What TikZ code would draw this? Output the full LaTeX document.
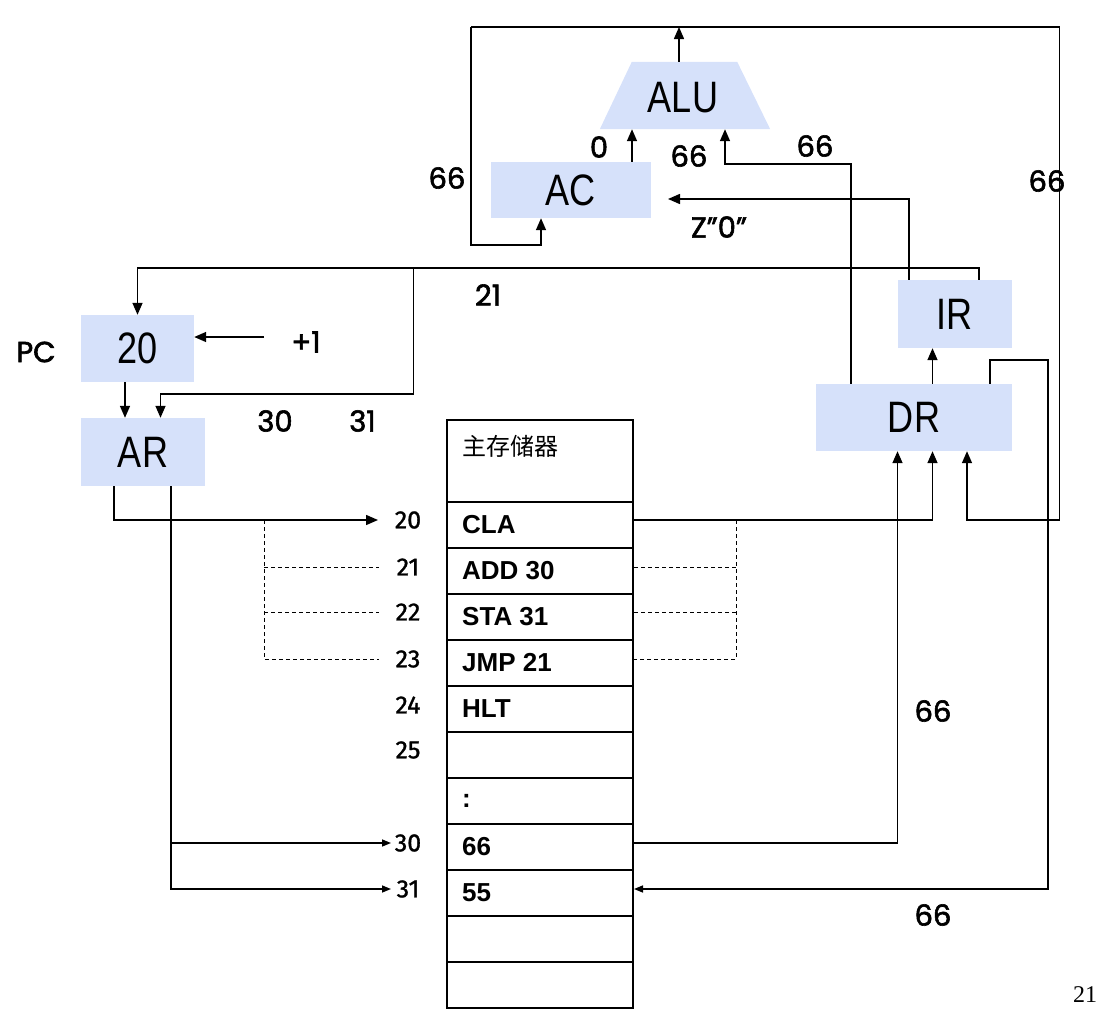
\documentclass[tikz,border=0pt]{standalone}
\usepackage{fontspec}
\setmainfont{Liberation Sans}
\newfontfamily\boxfont[FakeStretch=0.82]{Liberation Sans}
\newfontfamily\labfont[FakeBold=2]{Poppins}
\newfontfamily\addrfont[FakeBold=1.2]{Fira Sans}
\newfontfamily\cjkfont{Noto Sans CJK SC}
\newfontfamily\pagefont{Liberation Serif}
\usetikzlibrary{arrows.meta,calc}
\definecolor{regfill}{RGB}{214,225,250}

\begin{document}
\begin{tikzpicture}[x=1pt,y=-1pt,
  reg/.style={fill=regfill, inner sep=0pt, font=\boxfont\fontsize{44}{44}\selectfont},
  wire/.style={line width=1.5pt},
  arr/.style={wire, -{Triangle[length=12pt,width=10pt]}},
  smallarr/.style={wire, -{Triangle[length=9pt,width=7pt]}},
  dotwire/.style={line width=1pt, dash pattern=on 4pt off 3pt},
  lab/.style={font=\labfont\fontsize{29}{29}\selectfont, inner sep=0pt},
  addr/.style={font=\addrfont\fontsize{25}{25}\selectfont, inner sep=0pt},
  cell/.style={draw, line width=2pt, minimum width=186pt, minimum height=46pt, inner sep=0pt},
  celltext/.style={anchor=west, font=\bfseries\fontsize{26}{26}\selectfont, inner sep=0pt}
]
\useasboundingbox (0,0) rectangle (1096,1015);

% ---------- registers ----------
\node[reg, minimum width=160pt, minimum height=56pt] (ac) at (570.5,190) {AC};
\node[inner sep=0pt, minimum width=170pt, minimum height=67pt] (alu) at (685,95.5) {};
\fill[regfill] (alu.south west) -- (alu.south east) -- ([xshift=-33pt]alu.north east)
  -- ([xshift=32pt]alu.north west) -- cycle;
\node[font=\boxfont\fontsize{44}{44}\selectfont, inner sep=0pt] (alutext) at (683,97.5) {ALU};
\node[reg, minimum width=113pt, minimum height=67pt] (pc) at (137.5,348.5) {20};
\node[reg, minimum width=124pt, minimum height=68pt] (ar) at (143,452) {AR};
\node[reg, minimum width=114pt, minimum height=68pt] (ir) at (955,314) {IR};
\node[reg, minimum width=196pt, minimum height=67pt] (dr) at (914,417.5) {DR};

% ---------- main memory ----------
\node[cell, minimum height=82pt] (mhead) at (540,461) {};
\node[anchor=west, font=\cjkfont\fontsize{24}{24}\selectfont, inner sep=0pt] (mtitle) at (462,446) {主存储器};
\foreach \nm/\yc/\txt in {20/525/CLA, 21/571/ADD 30, 22/617/STA 31, 23/663/JMP 21,
    24/709/HLT, 25/755/{}, dots/801/:, 30/847/66, 31/893/55, e1/939/{}, e2/985/{}} {
  \node[cell] (m\nm) at (540,\yc) {};
  \node[celltext] (t\nm) at (462,\yc) {\txt};
}
\foreach \nm/\yc in {20/520, 21/567, 22/612, 23/659, 24/705, 25/750, 30/843, 31/889}
  \node[addr] (a\nm) at (408,\yc) {\nm};

% ---------- routing points ----------
\coordinate (topL) at (471,27);
\coordinate (topR) at (1059.5,27);
\coordinate (acfb) at (471,245);
\coordinate (aluin) at (725,164);
\coordinate (acin) at (668,199);
\coordinate (bus) at (413.5,268);
\coordinate (arbus) at (160.5,394);
\coordinate (inc) at (264,337);
\coordinate (p20) at (378,520);
\coordinate (p30) at (391,843);
\coordinate (p31) at (391,889);
\coordinate (dashL) at (264,520);
\coordinate (dashLend) at (379,520);
\coordinate (dashR) at (736,520);
\coordinate (frameR) at (1059.5,520);
\coordinate (drout) at (1048,360);

% ---------- data paths ----------
% ALU result bus
\draw[arr] ([xshift=-6pt]alu.north) -- ([xshift=-6pt]alu.north |- topL);
\draw[wire] (topL) -- (topR);
\draw[arr] (topL) |- (acfb) -| ([xshift=-29.5pt]ac.south);
\draw[arr] (topR) -- (frameR) -| ([xshift=53pt]dr.south);
% AC and DR into ALU
\draw[arr] ([xshift=61.5pt]ac.north) -- ([xshift=61.5pt]ac.north |- alu.south);
\draw[arr] ([xshift=-63pt]dr.north) |- (aluin) -- (aluin |- alu.south);
% IR into AC
\draw[arr] ([xshift=-46pt]ir.north) |- (acin);
% IR address field to PC and AR
\draw[arr] ([xshift=24pt]ir.north) |- (bus) -| (pc.north);
\draw[arr] (bus) |- (arbus) -- (arbus |- ar.north);
% PC increment and PC to AR
\draw[arr] (inc) -- (inc -| pc.east);
\draw[arr] ([xshift=-12.5pt]pc.south) -- ([xshift=-12.5pt]pc.south |- ar.north);
% AR addresses memory
\draw[arr] ([xshift=-29pt]ar.south) |- (p20);
\draw[smallarr] ([xshift=28pt]ar.south) |- (p31);
\draw[smallarr] ([xshift=28pt]ar.south |- p30) -- (p30);
\draw[dotwire] (dashL) |- (a23 -| dashLend);
\draw[dotwire] (dashL |- a21) -- (a21 -| dashLend);
\draw[dotwire] (dashL |- a22) -- (a22 -| dashLend);
% memory to DR
\draw[arr] (a20 -| m20.east) -| ([xshift=18.5pt]dr.south);
\draw[dotwire] (dashR) |- (a23 -| m23.east);
\draw[dotwire] (a21 -| m21.east) -- (a21 -| dashR);
\draw[dotwire] (a22 -| m22.east) -- (a22 -| dashR);
\draw[arr] (a30 -| m30.east) -| ([xshift=-16.5pt]dr.south);
% DR to IR and DR to memory
\draw[arr] ([xshift=18.5pt]dr.north) -- ([xshift=18.5pt]dr.north |- ir.south);
\draw[smallarr] ([xshift=76pt]dr.north) |- (drout) |- (a31 -| m31.east);

% ---------- labels ----------
\node[lab] (l0) at (599,147) {0};
\node[lab] (l1) at (689,156) {66};
\node[lab] (l2) at (815,146) {66};
\node[lab] (l3) at (447,178) {66};
\node[lab] (l4) at (1047,181) {66};
\node[lab] (lz) at (719,227) {Z”0”};
\node[lab] (l5) at (488,295) {21};
\node[lab] (lpc) at (36,352) {PC};
\node[lab] (lp1) at (306,342) {+1};
\node[lab] (l6) at (275,421) {30};
\node[lab] (l7) at (362.5,421) {31};
\node[lab] (l8) at (933,711) {66};
\node[lab] (l9) at (933,915) {66};
\node[font=\pagefont\fontsize{24}{24}\selectfont, inner sep=0pt] (pg) at (1085,995) {21};
\end{tikzpicture}
\end{document}
